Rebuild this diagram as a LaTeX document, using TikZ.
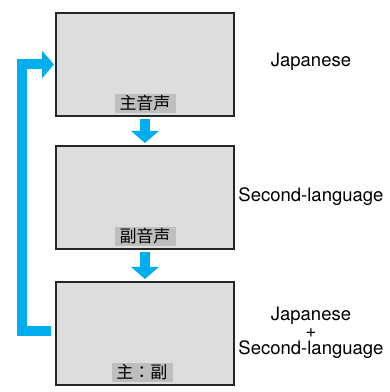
\documentclass[tikz,border=0pt]{standalone}
\usepackage{fontspec}
\setmainfont{TeX Gyre Heros}
\newfontfamily\jpfont{Noto Sans CJK JP}
\usepackage{tikz}
\usetikzlibrary{arrows.meta}
\definecolor{screengray}{HTML}{DCDDDF}
\definecolor{taggray}{HTML}{BDBEC0}
\definecolor{flowblue}{HTML}{00ADEF}

\begin{document}
\begin{tikzpicture}[x=1pt, y=1pt,
  screen/.style={draw=black!85, fill=screengray, line width=2pt, minimum width=178pt, minimum height=103pt},
  tag/.style={fill=taggray, font=\jpfont\fontsize{17}{17}\selectfont, inner sep=1pt, minimum width=61pt, minimum height=19pt},
  mode/.style={align=center, font=\fontsize{18.5}{17}\selectfont},
  flow/.style={draw=flowblue, line width=10pt, line join=miter, -{Triangle[width=27pt, length=12pt]}}
]
\useasboundingbox (0,0) rectangle (390,392);
\node[screen] (screen1) at (145,327.5) {};
\node[screen] (screen2) at (145,194.5) {};
\node[screen] (screen3) at (145,58.5) {};
\node[tag, above=4pt] (tag1) at (screen1.south) {主音声};
\node[tag, above=4pt] (tag2) at (screen2.south) {副音声};
\node[tag, above=4pt, xshift=-3pt] (tag3) at (screen3.south) {主：副};
% modes
\node[mode] (mode1) at (311,330) {Japanese};
\node[mode] (mode2) at (311,195) {Second-language};
\node[mode] (mode3) at (311,59) {Japanese\\+\\Second-language};
% arrows
\draw[flow, shorten <=2pt, shorten >=2pt] (screen1.south) -- (screen2.north);
\draw[flow, shorten <=2pt, shorten >=2pt] (screen2.south) -- (screen3.north);
\draw[flow, shorten <=4pt, shorten >=1pt] ([yshift=2.5pt]screen3.west) -- ++(-33,0) |- (screen1.west);
\end{tikzpicture}
\end{document}
